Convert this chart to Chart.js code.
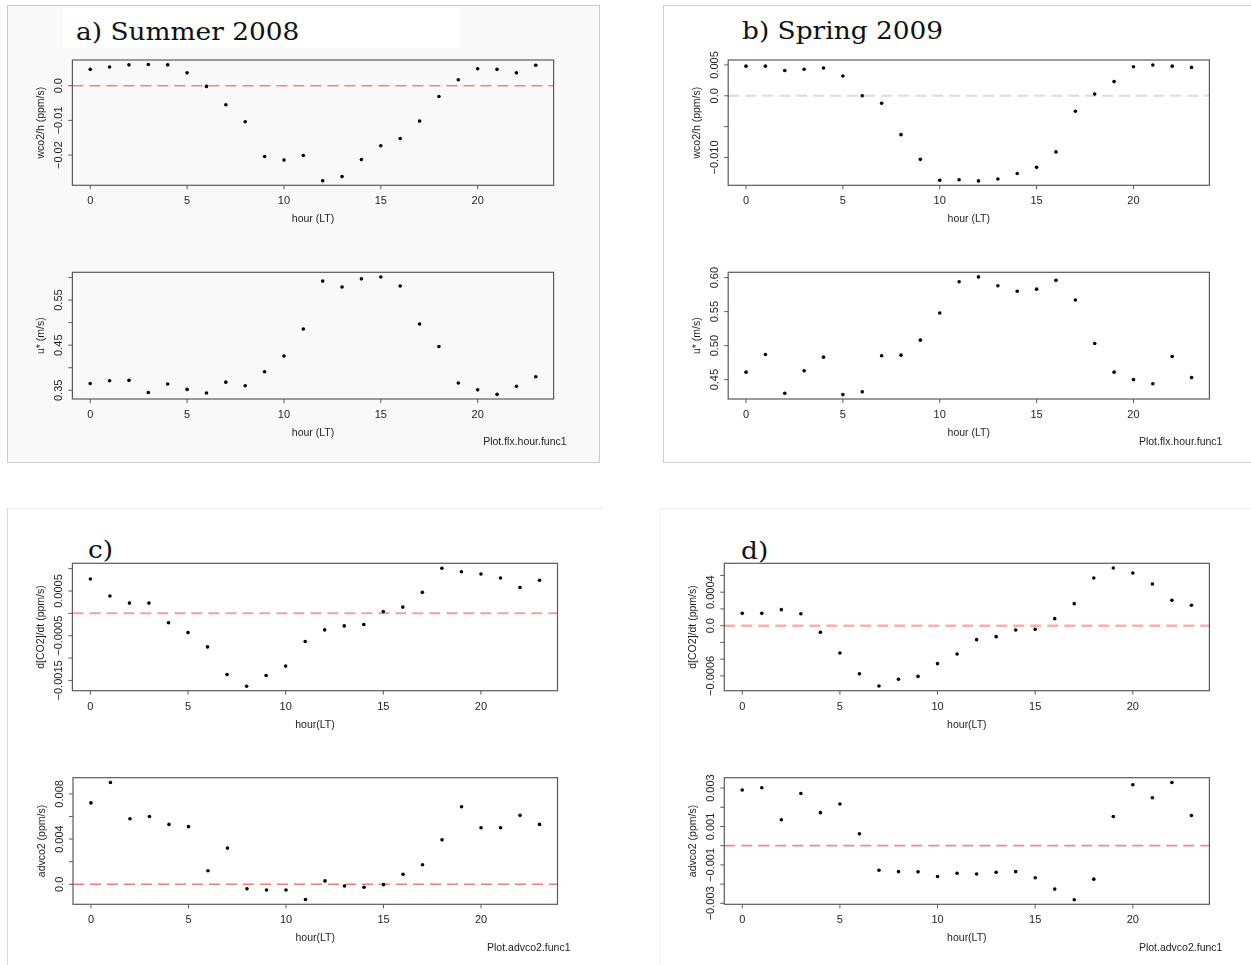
<!DOCTYPE html>
<html>
<head>
<meta charset="utf-8">
<title>Diurnal cycles</title>
<script src="https://cdn.jsdelivr.net/npm/chart.js@4/dist/chart.umd.min.js"></script>
<style>
  body { margin: 0; background: #fff; }
  #page { position: relative; width: 1251px; height: 965px; overflow: hidden; background: #fff; }
  .frame { position: absolute; box-sizing: border-box; }
  canvas { position: absolute; left: 0; top: 0; }
  .title {
    position: absolute; font-family: "DejaVu Serif", serif; font-size: 24px; line-height: 24px;
    color: #111; white-space: nowrap; transform: scaleX(1.1); transform-origin: left top;
  }
</style>
</head>
<body>
<div id="page">
  <div class="frame" style="left:7px;top:5px;width:593px;height:458px;border:1px solid #c9c9c9;background:#f9f9f9"></div>
  <div class="frame" style="left:63px;top:8px;width:397px;height:40px;background:#fff"></div>
  <div class="frame" style="left:663px;top:5px;width:620px;height:458px;border:1px solid #d0d0d0;border-right:none;background:#fff"></div>
  <div class="frame" style="left:7px;top:508px;width:596px;height:470px;border-top:1px solid #ececec;border-left:1px solid #d6d6d6"></div>
  <div class="frame" style="left:659px;top:508px;width:620px;height:470px;border-top:1px solid #ececec;border-left:1px solid #f0f0f0"></div>

  <div class="title" style="left:76px;top:20px">a) Summer 2008</div>
  <div class="title" style="left:742px;top:19px">b) Spring 2009</div>
  <div class="title" style="left:88px;top:538px">c)</div>
  <div class="title" style="left:741px;top:539px">d)</div>

  <canvas id="aTop" width="1251" height="965"></canvas>
  <canvas id="aBot" width="1251" height="965"></canvas>
  <canvas id="bTop" width="1251" height="965"></canvas>
  <canvas id="bBot" width="1251" height="965"></canvas>
  <canvas id="cTop" width="1251" height="965"></canvas>
  <canvas id="cBot" width="1251" height="965"></canvas>
  <canvas id="dTop" width="1251" height="965"></canvas>
  <canvas id="dBot" width="1251" height="965"></canvas>
</div>

<script>
// hourly means, local time
const hours = [0, 1, 2, 3, 4, 5, 6, 7, 8, 9, 10, 11, 12, 13, 14, 15, 16, 17, 18, 19, 20, 21, 22, 23];

// summer 2008
const summerWco2 = [0.0047, 0.0054, 0.0060, 0.0061, 0.0060, 0.0037, -0.0002, -0.0055, -0.0104, -0.0204, -0.0214, -0.0201,
                    -0.0274, -0.0262, -0.0213, -0.0173, -0.0152, -0.0102, -0.0031, 0.0017, 0.0049, 0.0047, 0.0037, 0.0059];
const summerUstar = [0.365, 0.371, 0.372, 0.345, 0.364, 0.352, 0.344, 0.368, 0.360, 0.391, 0.426, 0.486,
                     0.592, 0.579, 0.597, 0.601, 0.581, 0.497, 0.447, 0.366, 0.351, 0.341, 0.359, 0.380];
const summerDco2dt = [0.00077, 0.00039, 0.00023, 0.00023, -0.00021, -0.00043, -0.00075, -0.00137, -0.00163, -0.00139, -0.00118, -0.00063,
                      -0.00037, -0.00028, -0.00025, 0.00004, 0.00014, 0.00047, 0.00101, 0.00093, 0.00088, 0.00079, 0.00058, 0.00074];
const summerAdvco2 = [0.0072, 0.0090, 0.0058, 0.0060, 0.0053, 0.0051, 0.0012, 0.0032, -0.0004, -0.0005, -0.0005, -0.00135,
                      0.0003, -0.00015, -0.00026, -0.00003, 0.00088, 0.00173, 0.00393, 0.00686, 0.0050, 0.0050, 0.0061, 0.0053];

// spring 2009
const springWco2 = [0.0048, 0.0048, 0.0041, 0.0043, 0.0045, 0.0032, 0.0000, -0.0012, -0.0063, -0.0103, -0.0137, -0.0136,
                    -0.0138, -0.0135, -0.0126, -0.0116, -0.0091, -0.0025, 0.0003, 0.0023, 0.0047, 0.0050, 0.0048, 0.0046];
const springUstar = [0.461, 0.487, 0.430, 0.463, 0.483, 0.428, 0.432, 0.485, 0.486, 0.508, 0.548, 0.594,
                     0.601, 0.588, 0.580, 0.583, 0.596, 0.567, 0.503, 0.461, 0.450, 0.444, 0.484, 0.453];
const springDco2dt = [0.000147, 0.000147, 0.000191, 0.000143, -0.00008, -0.000327, -0.000574, -0.000721, -0.000641, -0.000606, -0.000454, -0.000339,
                      -0.000167, -0.000131, -0.000052, -0.000044, 0.000084, 0.000263, 0.00057, 0.000689, 0.00063, 0.000498, 0.000303, 0.000243];
const springAdvco2 = [0.0029, 0.00302, 0.00135, 0.00272, 0.00172, 0.00217, 0.00062, -0.00128, -0.00135, -0.00136, -0.0016, -0.00143,
                      -0.00147, -0.00138, -0.00135, -0.00167, -0.00226, -0.00281, -0.00174, 0.00152, 0.00317, 0.0025, 0.00329, 0.00157];

// axis ticks (blank label = tick mark only)
const hourTicks = [0, 5, 10, 15, 20];
const wco2SummerTicks = [-0.02, -0.01, 0.0];
const wco2SummerLabels = ['\u22120.02', '\u22120.01', '0.0'];
const ustarSummerTicks = [0.35, 0.40, 0.45, 0.50, 0.55, 0.60];
const ustarSummerLabels = ['0.35', '', '0.45', '', '0.55', ''];
const wco2SpringTicks = [-0.010, -0.005, 0.0, 0.005];
const wco2SpringLabels = ['\u22120.010', '', '0.0', '0.005'];
const ustarSpringTicks = [0.45, 0.50, 0.55, 0.60];
const ustarSpringLabels = ['0.45', '0.50', '0.55', '0.60'];
const dco2SummerTicks = [-0.0015, -0.0010, -0.0005, 0.0, 0.0005, 0.0010];
const dco2SummerLabels = ['\u22120.0015', '', '\u22120.0005', '', '0.0005', ''];
const advSummerTicks = [0.0, 0.002, 0.004, 0.006, 0.008];
const advSummerLabels = ['0.0', '', '0.004', '', '0.008'];
const dco2SpringTicks = [-0.0006, -0.0004, -0.0002, 0.0, 0.0002, 0.0004, 0.0006];
const dco2SpringLabels = ['\u22120.0006', '', '', '0.0', '', '0.0004', ''];
const advSpringTicks = [-0.003, -0.002, -0.001, 0.0, 0.001, 0.002, 0.003];
const advSpringLabels = ['\u22120.003', '', '\u22120.001', '', '0.001', '', '0.003'];

const W = 1251, H = 965;
const FONT = '"Liberation Sans", Arial, sans-serif';

// R-style box, ticks, rotated y labels and the dashed reference line
const rFrame = {
  id: 'rFrame',
  beforeDatasetsDraw(chart, args, o) {
    if (!o.zeroColor) return;
    const { ctx, chartArea: a, scales: { y } } = chart;
    const zy = y.getPixelForValue(0);
    ctx.save();
    ctx.strokeStyle = o.zeroColor;
    ctx.lineWidth = o.zeroWidth || 1.5;
    ctx.setLineDash([11, 6]);
    ctx.beginPath();
    ctx.moveTo(a.left, zy);
    ctx.lineTo(a.right, zy);
    ctx.stroke();
    ctx.restore();
  },
  afterDraw(chart, args, o) {
    const { ctx, chartArea: a, scales: { x, y } } = chart;
    ctx.save();
    ctx.strokeStyle = '#5a5a5a';
    ctx.lineWidth = 1.2;
    ctx.strokeRect(a.left, a.top, a.right - a.left, a.bottom - a.top);

    ctx.fillStyle = '#1e1e1e';
    ctx.lineWidth = 1;
    ctx.font = '11px ' + FONT;
    ctx.textAlign = 'center';
    ctx.textBaseline = 'middle';

    // x axis
    hourTicks.forEach(v => {
      const px = x.getPixelForValue(v);
      ctx.beginPath(); ctx.moveTo(px, a.bottom); ctx.lineTo(px, a.bottom + 4); ctx.stroke();
      ctx.fillText(String(v), px, a.bottom + 16);
    });

    // y axis, labels read bottom to top
    o.yTicks.forEach((v, i) => {
      const py = y.getPixelForValue(v);
      ctx.beginPath(); ctx.moveTo(a.left, py); ctx.lineTo(a.left - 4, py); ctx.stroke();
      if (!o.yLabels[i]) return;
      ctx.save();
      ctx.translate(a.left - 13, py);
      ctx.rotate(-Math.PI / 2);
      ctx.fillText(o.yLabels[i], 0, 0);
      ctx.restore();
    });

    ctx.font = '10.5px ' + FONT;
    ctx.fillText(o.xTitle, (a.left + a.right) / 2, a.bottom + 34);
    ctx.save();
    ctx.translate(a.left - 31, (a.top + a.bottom) / 2);
    ctx.rotate(-Math.PI / 2);
    ctx.fillText(o.yTitle, 0, 0);
    ctx.restore();

    if (o.footer) {
      ctx.textAlign = 'right';
      ctx.fillText(o.footer, a.right + 13, a.bottom + 43.5);
    }
    ctx.restore();
  }
};

function drawPanel(id, box, values, yMin, yMax, axis) {
  new Chart(document.getElementById(id), {
    type: 'scatter',
    data: {
      datasets: [{
        data: hours.map((h, i) => ({ x: h, y: values[i] })),
        pointRadius: 1.8,
        pointBackgroundColor: '#000',
        pointBorderWidth: 0
      }]
    },
    options: {
      responsive: false,
      animation: false,
      events: [],
      layout: { padding: { left: box[0], top: box[1], right: W - box[2], bottom: H - box[3] } },
      plugins: { legend: { display: false }, tooltip: { enabled: false }, rFrame: axis },
      scales: {
        x: { type: 'linear', min: -0.92, max: 23.92, display: false },
        y: { type: 'linear', min: yMin, max: yMax, display: false }
      }
    },
    plugins: [rFrame]
  });
}

drawPanel('aTop', [72.4, 60, 553.6, 185.3], summerWco2, -0.0287, 0.0074, {
  yTicks: wco2SummerTicks, yLabels: wco2SummerLabels, xTitle: 'hour (LT)', yTitle: 'wco2/h (ppm/s)',
  zeroColor: 'rgba(236,120,120,0.9)', zeroWidth: 1.5
});
drawPanel('aBot', [72.4, 272.3, 553.6, 399], summerUstar, 0.3307, 0.6115, {
  yTicks: ustarSummerTicks, yLabels: ustarSummerLabels, xTitle: 'hour (LT)', yTitle: 'u* (m/s)',
  footer: 'Plot.flx.hour.func1'
});
drawPanel('bTop', [728.2, 60, 1209.4, 185.3], springWco2, -0.01451, 0.0058, {
  yTicks: wco2SpringTicks, yLabels: wco2SpringLabels, xTitle: 'hour (LT)', yTitle: 'wco2/h (ppm/s)',
  zeroColor: '#dcdcdc', zeroWidth: 2
});
drawPanel('bBot', [728.2, 272.3, 1209.4, 399], springUstar, 0.4215, 0.6078, {
  yTicks: ustarSpringTicks, yLabels: ustarSpringLabels, xTitle: 'hour (LT)', yTitle: 'u* (m/s)',
  footer: 'Plot.flx.hour.func1'
});
drawPanel('cTop', [72.4, 563.3, 557.5, 690.7], summerDco2dt, -0.00173, 0.00112, {
  yTicks: dco2SummerTicks, yLabels: dco2SummerLabels, xTitle: 'hour(LT)', yTitle: 'd[CO2]/dt (ppm/s)',
  zeroColor: '#f2a0a0', zeroWidth: 2
});
drawPanel('cBot', [73, 777.7, 557.5, 904.3], summerAdvco2, -0.00177, 0.00943, {
  yTicks: advSummerTicks, yLabels: advSummerLabels, xTitle: 'hour(LT)', yTitle: 'advco2 (ppm/s)',
  zeroColor: '#e8826f', zeroWidth: 1.5, footer: 'Plot.advco2.func1'
});
drawPanel('dTop', [724.3, 563.3, 1209.4, 690.7], springDco2dt, -0.000777, 0.000745, {
  yTicks: dco2SpringTicks, yLabels: dco2SpringLabels, xTitle: 'hour(LT)', yTitle: 'd[CO2]/dt (ppm/s)',
  zeroColor: '#f7b0b0', zeroWidth: 2.5
});
drawPanel('dBot', [724.3, 777.7, 1209.4, 904.3], springAdvco2, -0.00305, 0.00354, {
  yTicks: advSpringTicks, yLabels: advSpringLabels, xTitle: 'hour(LT)', yTitle: 'advco2 (ppm/s)',
  zeroColor: '#f08a8a', zeroWidth: 1.8, footer: 'Plot.advco2.func1'
});
</script>
</body>
</html>
